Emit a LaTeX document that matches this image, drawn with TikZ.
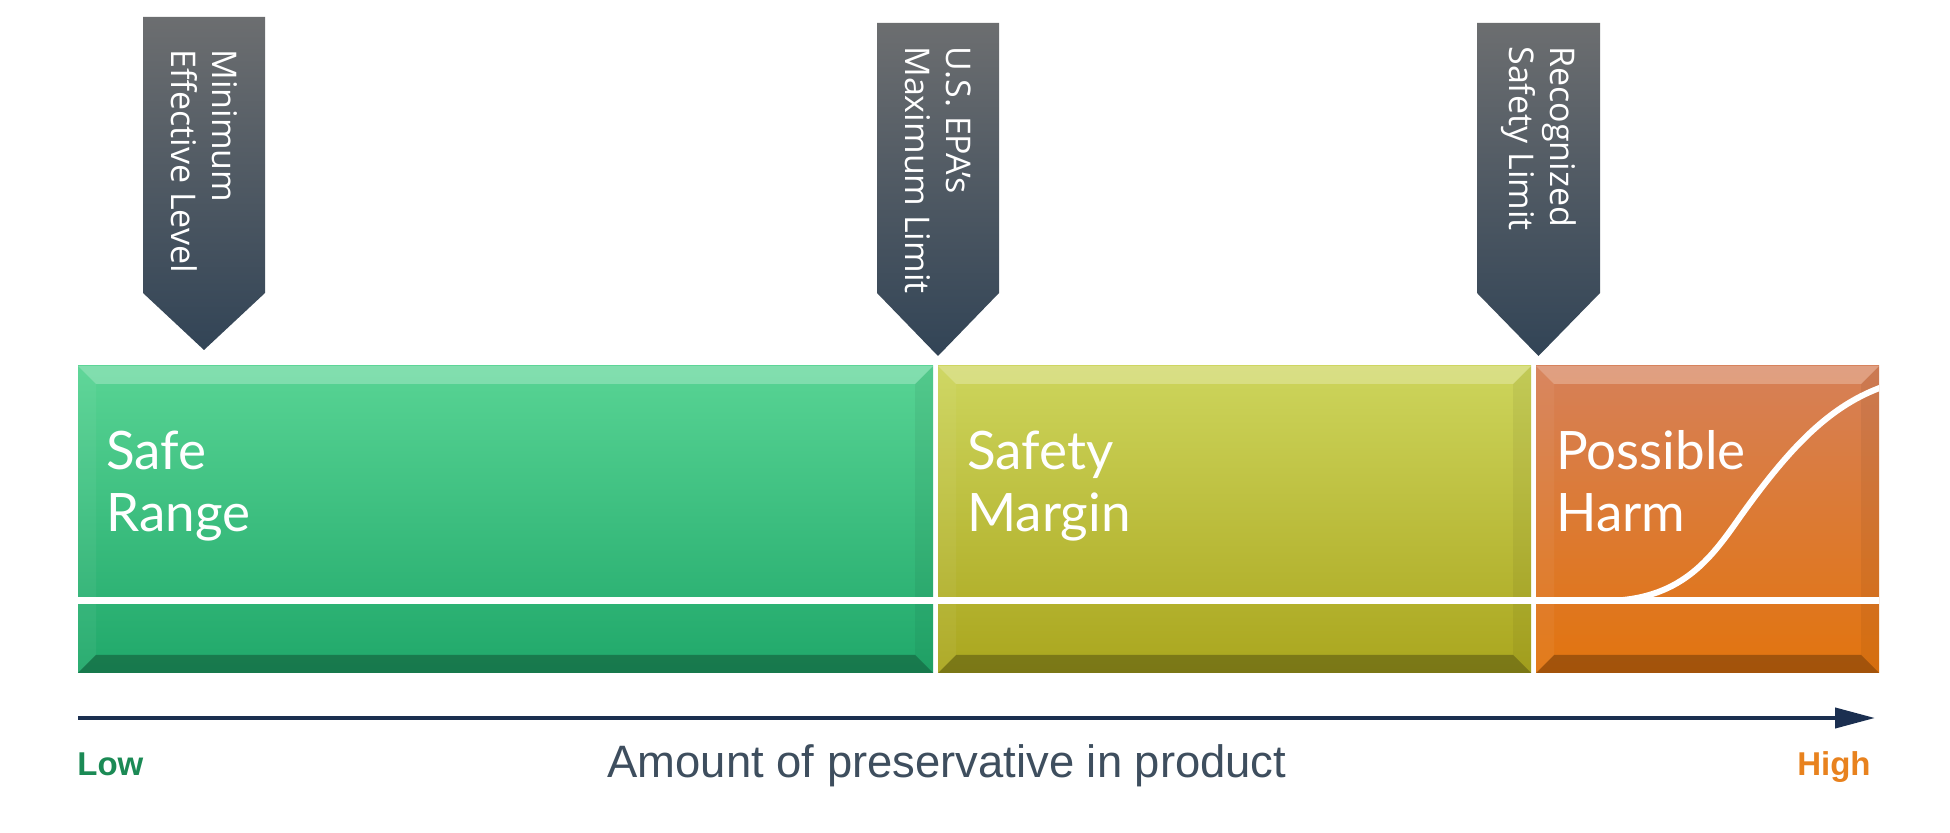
\documentclass[tikz,border=0pt]{standalone}
\usepackage{fontspec}
\setmainfont{Liberation Sans}
\newfontfamily\zonefont{Lato}
\newfontfamily\bannerfont{Open Sans}
\usepackage{xcolor}
\usepackage{tikz}
\usetikzlibrary{arrows.meta,positioning}
\definecolor{pvgreentop}{RGB}{88,212,148}
\definecolor{pvgreenbot}{RGB}{32,168,106}
\definecolor{pvyellowtop}{RGB}{205,213,92}
\definecolor{pvyellowbot}{RGB}{170,166,30}
\definecolor{pvorangetop}{RGB}{214,128,88}
\definecolor{pvorangebot}{RGB}{226,116,14}
\definecolor{pvbannertop}{RGB}{108,110,112}
\definecolor{pvbannerbot}{RGB}{50,68,86}
\definecolor{pvaxis}{RGB}{27,47,80}
\definecolor{pvtext}{RGB}{62,78,94}
\definecolor{pvlow}{RGB}{27,138,85}
\definecolor{pvhigh}{RGB}{232,130,30}

\begin{document}
\begin{tikzpicture}[x=0.5pt, y=-0.5pt,
    banner/.style={top color=pvbannertop, bottom color=pvbannerbot},
    bannerlabel/.style={rotate=-90, anchor=west, align=left, inner sep=0pt, text=white,
        font=\bannerfont\fontsize{17}{20.5}\selectfont},
    zonelabel/.style={anchor=base west, align=left, inner sep=0pt, text=white,
        font=\zonefont\fontsize{26.5}{31}\selectfont},
    endlabel/.style={inner sep=0pt, font=\bfseries\fontsize{16.5}{20}\selectfont}]
    \useasboundingbox (0,0) rectangle (1950,833);

    % Zones with bevelled edges
    \foreach \xa/\xb/\ctop/\cbot in {78/933/pvgreentop/pvgreenbot,
        938/1531/pvyellowtop/pvyellowbot, 1536/1879/pvorangetop/pvorangebot} {
        \shade[top color=\ctop, bottom color=\cbot] (\xa,366) rectangle (\xb,673);
        \fill[white, opacity=0.25] (\xa,366) -- (\xb,366) -- (\xb-18,384) -- (\xa+18,384) -- cycle;
        \fill[black, opacity=0.28] (\xa,673) -- (\xb,673) -- (\xb-18,655) -- (\xa+18,655) -- cycle;
        \fill[white, opacity=0.05] (\xa,366) -- (\xa+18,384) -- (\xa+18,655) -- (\xa,673) -- cycle;
        \fill[black, opacity=0.05] (\xb,366) -- (\xb-18,384) -- (\xb-18,655) -- (\xb,673) -- cycle;
    }

    % Divider and harm curve
    \draw[white, line width=3.5pt] (78,601) -- (1879,601);
    \begin{scope}
        \clip (1536,366) rectangle (1879,673);
        \draw[white, line width=3pt] (1536,601) -- (1603,601)
            .. controls (1680,601) and (1710,560) .. (1740,517)
            .. controls (1790,447) and (1830,405) .. (1885,386);
    \end{scope}

    % Zone labels
    \node[zonelabel] (safe) at (106,532) {Safe\\Range};
    \node[zonelabel] (margin) at (967,532) {Safety\\Margin};
    \node[zonelabel] (harm) at (1556,532) {Possible\\Harm};

    % Limit markers
    \shade[banner] (143,17) -- (265,17) -- (265,293) -- (204,350) -- (143,293) -- cycle;
    \shade[banner] (877,23) -- (999,23) -- (999,293) -- (938,356) -- (877,293) -- cycle;
    \shade[banner] (1477,23) -- (1600,23) -- (1600,293) -- (1538.5,356) -- (1477,293) -- cycle;
    \node[bannerlabel] (minlevel) at (204,49) {Minimum\\Effective Level};
    \node[bannerlabel] (epalimit) at (938,46) {U.S. EPA’s\\Maximum Limit};
    \node[bannerlabel] (safelimit) at (1538.5,46) {Recognized\\Safety Limit};

    % Axis
    \coordinate (axstart) at (78,718);
    \coordinate (axend) at (1875,718);
    \draw[pvaxis, line width=2pt, -{Triangle[length=20pt, width=10pt]}] (axstart) -- (axend);

    % Axis labels
    \node[endlabel, text=pvlow, anchor=base west] (low) at (77,776) {Low};
    \node[endlabel, text=pvhigh, anchor=base east] (high) at (1871,776) {High};
    \node[anchor=base, inner sep=0pt, text=pvtext, font=\fontsize{22.7}{27}\selectfont] (amount)
        at (947,777) {Amount of preservative in product};
\end{tikzpicture}
\end{document}
